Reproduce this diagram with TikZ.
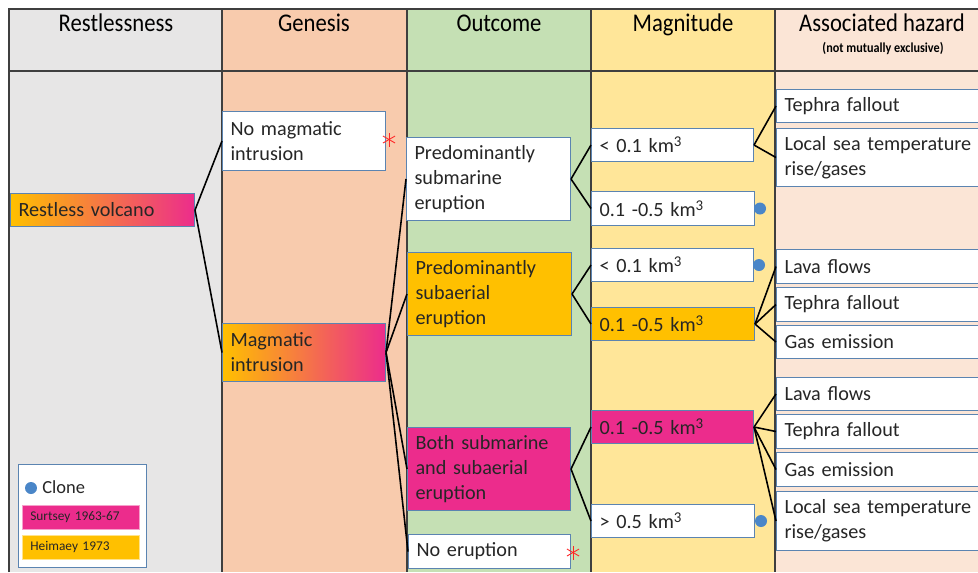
\documentclass[tikz,border=0pt]{standalone}
\usepackage{fontspec}
\setmainfont{Carlito}
\newfontfamily\headfont[FakeStretch=0.89]{Carlito}
\usepackage{tikz}
\usetikzlibrary{positioning, calc}

\definecolor{restgrey}{HTML}{E7E6E6}
\definecolor{genpeach}{HTML}{F8CBAD}
\definecolor{outgreen}{HTML}{C5E0B4}
\definecolor{magyellow}{HTML}{FFE699}
\definecolor{hazpink}{HTML}{FBE5D6}
\definecolor{heiorange}{HTML}{FFC000}
\definecolor{surtpink}{HTML}{EC2C8C}
\definecolor{gradmid}{HTML}{F38276}
\definecolor{boxedge}{HTML}{5B84B1}
\definecolor{clonedot}{HTML}{4A86C8}
\definecolor{ink}{HTML}{262626}
\definecolor{gridline}{HTML}{3F3F3F}

\newcommand\boxfont{\fontsize{11.5}{14.2}\selectfont}
\newcommand\cubed{\raisebox{0.62ex}{\fontsize{8.5}{9}\selectfont 3}}

\begin{document}
\begin{tikzpicture}[
    x=0.02cm, y=-0.02cm,
    box/.style={draw=boxedge, line width=0.6pt, anchor=north west, inner xsep=0.16cm, inner ysep=0pt, align=left, font=\boxfont, text=ink},
    wbox/.style={box, fill=white},
    obox/.style={box, fill=heiorange},
    mbox/.style={box, fill=surtpink},
    gbox/.style={box, left color=heiorange, middle color=gradmid, right color=surtpink},
    head/.style={anchor=base, font=\headfont\fontsize{14.5}{16}\selectfont, text=black, inner sep=0pt},
    link/.style={line width=0.9pt, black},
    clone/.style={circle, fill=clonedot, inner sep=0pt, minimum size=0.24cm},
    cross/.style={red!85!white, line width=0.5pt},
    legkey/.style={anchor=north west, draw=#1!45!white, fill=#1, minimum width=2.34cm, minimum height=0.48cm, text width=2.02cm, inner xsep=0.16cm, inner ysep=0pt, align=left, font=\fontsize{7.6}{9}\selectfont, text=ink},
  ]
  \clip (0,0) rectangle (978,572);
  \fill[white] (0,0) rectangle (978,572);

  % columns
  \fill[restgrey] (9,9) rectangle (222,572);
  \fill[genpeach] (222,9) rectangle (407,572);
  \fill[outgreen] (407,9) rectangle (591,572);
  \fill[magyellow] (591,9) rectangle (775,572);
  \fill[hazpink] (775,9) rectangle (978,572);
  \draw[gridline, line width=0.6pt] (9,572) -- (9,9) -- (978,9);
  \draw[gridline, line width=0.6pt] (9,71) -- (978,71);
  \foreach \cx in {222,407,591,775}
    \draw[gridline, line width=0.6pt] (\cx,9) -- (\cx,572);

  \node[head] (hRest) at (116,31) {Restlessness};
  \node[head] (hGen) at (314,31) {Genesis};
  \node[head] (hOut) at (499,31) {Outcome};
  \node[head] (hMag) at (683,31) {Magnitude};
  \node[head] (hHaz) at (882,31) {Associated hazard};
  \node[inner sep=0pt, text=black, font=\headfont\bfseries\fontsize{7.8}{9}\selectfont] (hHazSub) at (883,48) {(not mutually exclusive)};

  % restlessness and genesis
  \node[gbox, text width=3.36cm, minimum height=0.66cm] (volcano) at (10,193) {Restless volcano};
  \node[wbox, text width=2.94cm, minimum height=1.18cm] (nomag) at (222,111) {No magmatic\\intrusion};
  \node[gbox, text width=2.94cm, minimum height=1.16cm] (magint) at (222,323) {Magmatic\\intrusion};

  % outcome
  \node[wbox, text width=2.96cm, minimum height=1.66cm] (submar) at (406,137) {Predominantly\\submarine\\eruption};
  \node[obox, text width=2.96cm, minimum height=1.66cm] (subaer) at (407,252) {Predominantly\\subaerial\\eruption};
  \node[mbox, text width=2.94cm, minimum height=1.66cm] (both) at (407,427) {Both submarine\\and subaerial\\eruption};
  \node[wbox, text width=2.92cm, minimum height=0.68cm] (noerupt) at (408,534) {No eruption};

  % magnitude
  \node[wbox, text width=2.92cm, minimum height=0.66cm] (magA) at (591,128) {< 0.1 km\cubed};
  \node[wbox, text width=2.94cm, minimum height=0.68cm] (magB) at (591,191) {0.1 -0.5 km\cubed};
  \node[wbox, text width=2.92cm, minimum height=0.66cm] (magC) at (591,248) {< 0.1 km\cubed};
  \node[obox, text width=2.94cm, minimum height=0.66cm] (magD) at (591,307) {0.1 -0.5 km\cubed};
  \node[mbox, text width=2.92cm, minimum height=0.66cm] (magE) at (591,410) {0.1 -0.5 km\cubed};
  \node[wbox, text width=2.94cm, minimum height=0.66cm] (magF) at (591,504) {> 0.5 km\cubed};

  % associated hazard
  \node[wbox, text width=4.5cm, minimum height=0.66cm] (hzA) at (776,89) {Tephra fallout};
  \node[wbox, text width=4.5cm, minimum height=1.16cm] (hzB) at (776,128) {Local sea temperature\\rise/gases};
  \node[wbox, text width=4.5cm, minimum height=0.68cm] (hzC) at (776,249) {Lava flows};
  \node[wbox, text width=4.5cm, minimum height=0.68cm] (hzD) at (776,287) {Tephra fallout};
  \node[wbox, text width=4.5cm, minimum height=0.66cm] (hzE) at (776,325) {Gas emission};
  \node[wbox, text width=4.5cm, minimum height=0.66cm] (hzF) at (776,377) {Lava flows};
  \node[wbox, text width=4.5cm, minimum height=0.68cm] (hzG) at (776,414) {Tephra fallout};
  \node[wbox, text width=4.5cm, minimum height=0.68cm] (hzH) at (776,452) {Gas emission};
  \node[wbox, text width=4.5cm, minimum height=1.18cm] (hzI) at (776,491) {Local sea temperature\\rise/gases};

  % links
  \draw[link] (volcano.east) -- (nomag.west);
  \draw[link] (volcano.east) -- (magint.west);
  \foreach \kid in {submar, subaer, both, noerupt}
    \draw[link] (magint.east) -- (\kid.west);
  \draw[link] (submar.east) -- (magA.west);
  \draw[link] (submar.east) -- (magB.west);
  \draw[link] (subaer.east) -- (magC.west);
  \draw[link] (subaer.east) -- (magD.west);
  \draw[link] (both.east) -- (magE.west);
  \draw[link] (both.east) -- (magF.west);
  \draw[link] (magA.east) -- (hzA.west);
  \draw[link] (magA.east) -- (hzB.west);
  \foreach \kid in {hzC, hzD, hzE}
    \draw[link] (magD.east) -- (\kid.west);
  \foreach \kid in {hzF, hzG, hzH, hzI}
    \draw[link] (magE.east) -- (\kid.west);

  % clones and dead ends
  \node[clone] (cloneB) at ($(magB.east)+(5,0)$) {};
  \node[clone] (cloneC) at ($(magC.east)+(5,0)$) {};
  \node[clone] (cloneF) at ($(magF.east)+(6,0)$) {};
  \coordinate (stopA) at ($(nomag.east)+(3,-1.5)$);
  \coordinate (stopB) at ($(noerupt.east)+(2,1)$);
  \foreach \s in {stopA, stopB}
    \foreach \a in {90,30,150}
      \draw[cross] ($(\s)+(\a:7)$) -- ($(\s)+(\a+180:7)$);

  % legend
  \node[box, fill=white, minimum width=2.56cm, minimum height=2.06cm, inner sep=0pt] (legend) at (18,464) {};
  \node[clone] (legdot) at (31,488) {};
  \node[anchor=west, inner sep=0pt, text=ink, font=\fontsize{10.5}{12}\selectfont] (legclone) at (42,487) {Clone};
  \node[legkey=surtpink] (legsurt) at (22,505) {Surtsey 1963-67};
  \node[legkey=heiorange] (leghei) at (22,535) {Heimaey 1973};
\end{tikzpicture}
\end{document}
